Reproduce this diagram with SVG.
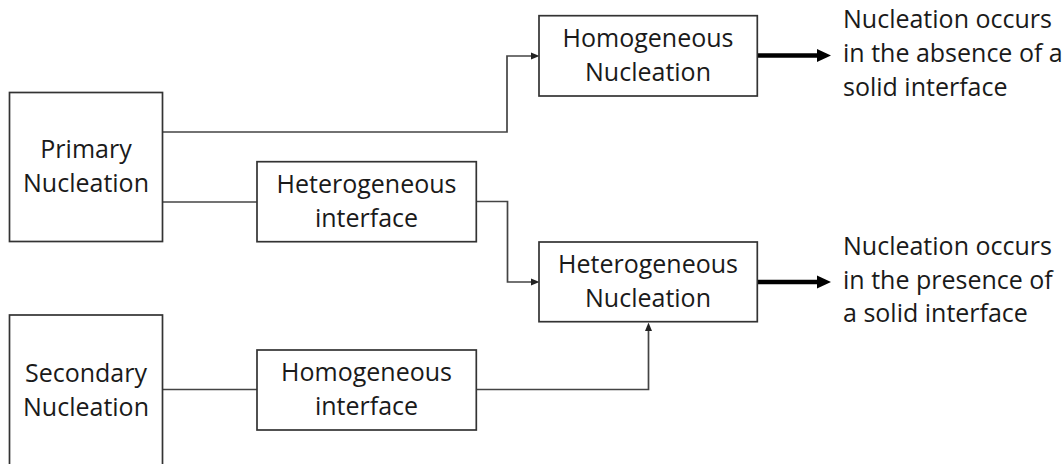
<svg xmlns="http://www.w3.org/2000/svg" width="1064" height="464" viewBox="0 0 1064 464">
<style>
.box{fill:#fff;stroke:#333;stroke-width:1.7}
.t{font-family:"Open Sans","Noto Sans",sans-serif;font-size:25px;fill:#1a1a1a;text-anchor:middle}
.r{font-family:"Open Sans","Noto Sans",sans-serif;font-size:25px;fill:#1a1a1a}
.c{fill:none;stroke:#444;stroke-width:1.7}
.k{fill:none;stroke:#000;stroke-width:4.5}
</style>
<defs>
<marker id="a" markerUnits="userSpaceOnUse" markerWidth="9" markerHeight="8" refX="0" refY="4" orient="auto"><path d="M0,0.5 L8.5,4 L0,7.5 z" fill="#222"/></marker>
<marker id="b" markerUnits="userSpaceOnUse" markerWidth="15" markerHeight="14" refX="0" refY="7" orient="auto"><path d="M0,0.5 L14,7 L0,13.5 z" fill="#000"/></marker>
</defs>
<rect width="1064" height="464" fill="#fff"/>
<g id="connectors">
<path class="c" d="M162.5,132 H507 V56 H531" marker-end="url(#a)"/>
<path class="c" d="M162.5,202 H257"/>
<path class="c" d="M476,201.5 H507.5 V282 H531" marker-end="url(#a)"/>
<path class="c" d="M162.5,389.5 H257"/>
<path class="c" d="M476,389.5 H648.5 V331" marker-end="url(#a)"/>
<path class="k" d="M757,55.5 H817" marker-end="url(#b)"/>
<path class="k" d="M757,282 H817" marker-end="url(#b)"/>
</g>
<g id="primary">
<rect class="box" x="9.5" y="92.5" width="153" height="149"/>
<text class="t" x="86" y="158">Primary</text>
<text class="t" x="86" y="192">Nucleation</text>
</g>
<g id="secondary">
<rect class="box" x="9.5" y="315" width="153" height="160"/>
<text class="t" x="86" y="381.5">Secondary</text>
<text class="t" x="86" y="415.5">Nucleation</text>
</g>
<g id="het-interface">
<rect class="box" x="257" y="161.7" width="219.3" height="80"/>
<text class="t" x="366.5" y="192.7">Heterogeneous</text>
<text class="t" x="366.5" y="226.7">interface</text>
</g>
<g id="hom-interface">
<rect class="box" x="257" y="350" width="219.3" height="80"/>
<text class="t" x="366.5" y="381">Homogeneous</text>
<text class="t" x="366.5" y="415">interface</text>
</g>
<g id="hom-nucleation">
<rect class="box" x="539" y="15.7" width="218.3" height="80.3"/>
<text class="t" x="648" y="46.7">Homogeneous</text>
<text class="t" x="648" y="81">Nucleation</text>
</g>
<g id="het-nucleation">
<rect class="box" x="539" y="242" width="218.3" height="79.7"/>
<text class="t" x="648" y="273.3">Heterogeneous</text>
<text class="t" x="648" y="307.3">Nucleation</text>
</g>
<g id="note-absence">
<text class="r" x="843" y="28">Nucleation occurs</text>
<text class="r" x="843" y="62">in the absence of a</text>
<text class="r" x="843" y="96">solid interface</text>
</g>
<g id="note-presence">
<text class="r" x="843" y="254.5">Nucleation occurs</text>
<text class="r" x="843" y="288.5">in the presence of</text>
<text class="r" x="843" y="322">a solid interface</text>
</g>
</svg>
